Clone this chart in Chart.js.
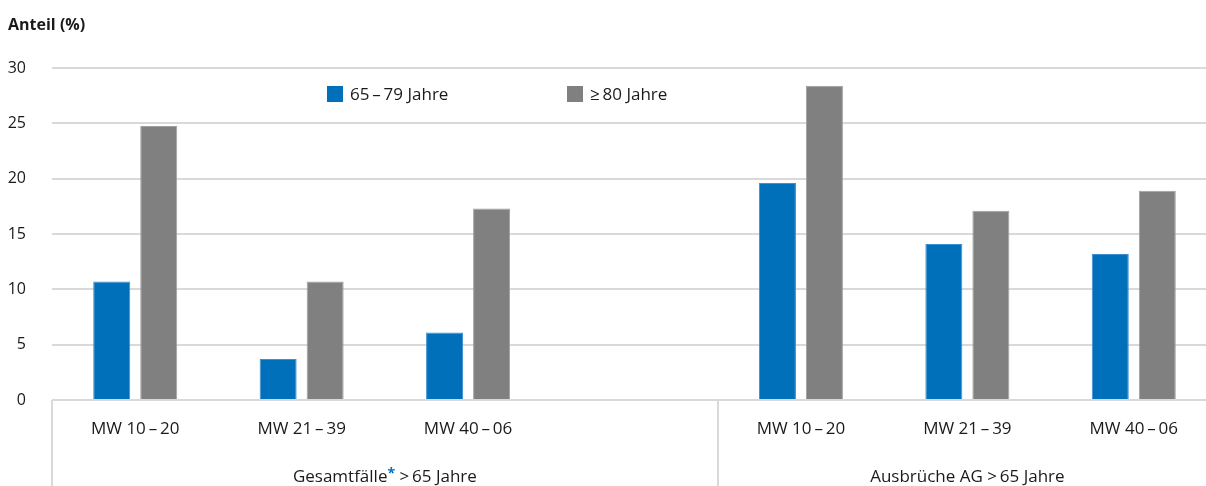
<!DOCTYPE html>
<html><head><meta charset="utf-8">
<script src="https://cdn.jsdelivr.net/npm/chart.js@4/dist/chart.umd.min.js"></script>
<style>
html,body{margin:0;padding:0;background:#fff;overflow:hidden;width:1206px;height:486px;}
#wrap{position:absolute;left:0;top:0;width:1217px;height:486px;}
</style></head>
<body>
<div id="wrap"><canvas id="c" width="1217" height="486"></canvas></div>
<script>
const categories = ['MW 10\u2009–\u200920','MW 21\u2009–\u200939','MW 40\u2009–\u200906','','MW 10\u2009–\u200920','MW 21\u2009–\u200939','MW 40\u2009–\u200906'];
const groupLabels = ['Gesamtfälle', 'Ausbrüche AG >\u200965 Jahre'];
const seriesNames = ['65\u2009–\u200979 Jahre', '≥\u200980 Jahre'];
const values6579 = [10.7, 3.7, 6.1, null, 19.6, 14.1, 13.2];
const values80 = [24.75, 10.7, 17.3, null, 28.4, 17.1, 18.9];
const yTicks = [0, 5, 10, 15, 20, 25, 30];

const FONT = '"Open Sans", "Noto Sans", sans-serif';
const TXT = '#1a1a1a';
const BLUE = '#0070ba';
const GRAY = '#808080';

const extras = {
  id: 'extras',
  afterDraw(chart) {
    const ctx = chart.ctx;
    const x = chart.scales.x;
    const area = chart.chartArea;
    const slot = x.getPixelForValue(1) - x.getPixelForValue(0);
    ctx.save();
    // title
    ctx.fillStyle = TXT;
    ctx.font = 'bold 16px ' + FONT;
    ctx.textBaseline = 'middle';
    ctx.textAlign = 'left';
    ctx.fillText('Anteil (%)', 8, 25);
    // separators
    ctx.strokeStyle = '#d9d9d9';
    ctx.lineWidth = 2;
    const sepX = [area.left, x.getPixelForValue(3) + slot / 2];
    sepX.forEach(sx => {
      ctx.beginPath();
      ctx.moveTo(Math.round(sx), area.bottom);
      ctx.lineTo(Math.round(sx), 486);
      ctx.stroke();
    });
    // group labels
    const F = '17px ' + FONT;
    ctx.font = F;
    ctx.textBaseline = 'middle';
    const y = 477;
    const p1 = groupLabels[0], p2 = '*', p3 = ' >\u200965 Jahre';
    const w1 = ctx.measureText(p1).width, w3 = ctx.measureText(p3).width;
    ctx.font = 'bold 14px ' + FONT;
    const w2 = ctx.measureText(p2).width;
    const cL = (sepX[0] + sepX[1]) / 2;
    let sx = cL - (w1 + w2 + w3) / 2;
    ctx.textAlign = 'left';
    ctx.font = F; ctx.fillStyle = TXT; ctx.fillText(p1, sx, y);
    ctx.fillStyle = BLUE; ctx.font = 'bold 14px ' + FONT; ctx.fillText(p2, sx + w1, y - 3);
    ctx.font = F; ctx.fillStyle = TXT; ctx.fillText(p3, sx + w1 + w2, y);
    // right group
    const cR = sepX[1] + slot * 1.5;
    ctx.textAlign = 'center';
    ctx.fillText(groupLabels[1], cR, y);
    // legend
    const leg = [[327, BLUE, 0], [567, GRAY, 1]];
    ctx.textAlign = 'left';
    leg.forEach(([lx, col, i]) => {
      ctx.fillStyle = col;
      ctx.fillRect(lx, 86, 16, 16);
      ctx.fillStyle = TXT;
      ctx.font = '17px ' + FONT;
      ctx.fillText(chart.data.datasets[i].label, lx + 23, 95);
    });
    ctx.restore();
  }
};

new Chart(document.getElementById('c'), {
  type: 'bar',
  data: {
    labels: categories,
    datasets: [
      { label: seriesNames[0], data: values6579, backgroundColor: BLUE, borderColor: '#3d8fd0', borderWidth: 1, categoryPercentage: 0.565, barPercentage: 0.787 },
      { label: seriesNames[1], data: values80, backgroundColor: GRAY, borderColor: '#a0a0a0', borderWidth: 1, categoryPercentage: 0.565, barPercentage: 0.787 }
    ]
  },
  options: {
    responsive: false,
    animation: false,
    devicePixelRatio: 1,
    layout: { padding: { top: 68, right: 0, left: 0, bottom: 0 } },
    plugins: { legend: { display: false }, tooltip: { enabled: false } },
    scales: {
      x: {
        grid: { display: false, drawTicks: false },
        border: { display: false },
        ticks: { color: TXT, font: { family: FONT, size: 17 }, padding: 19, maxRotation: 0, autoSkip: false },
        afterFit(s) { s.height = 86; }
      },
      y: {
        min: 0, max: 30,
        afterBuildTicks(s) { s.ticks = yTicks.map(v => ({ value: v })); },
        grid: { color: '#d9d9d9', lineWidth: 2, drawTicks: false },
        border: { display: false },
        ticks: { color: TXT, font: { family: FONT, size: 16 }, padding: 26 },
        afterFit(s) { s.width = 52; }
      }
    }
  },
  plugins: [extras]
});
</script>
</body></html>
